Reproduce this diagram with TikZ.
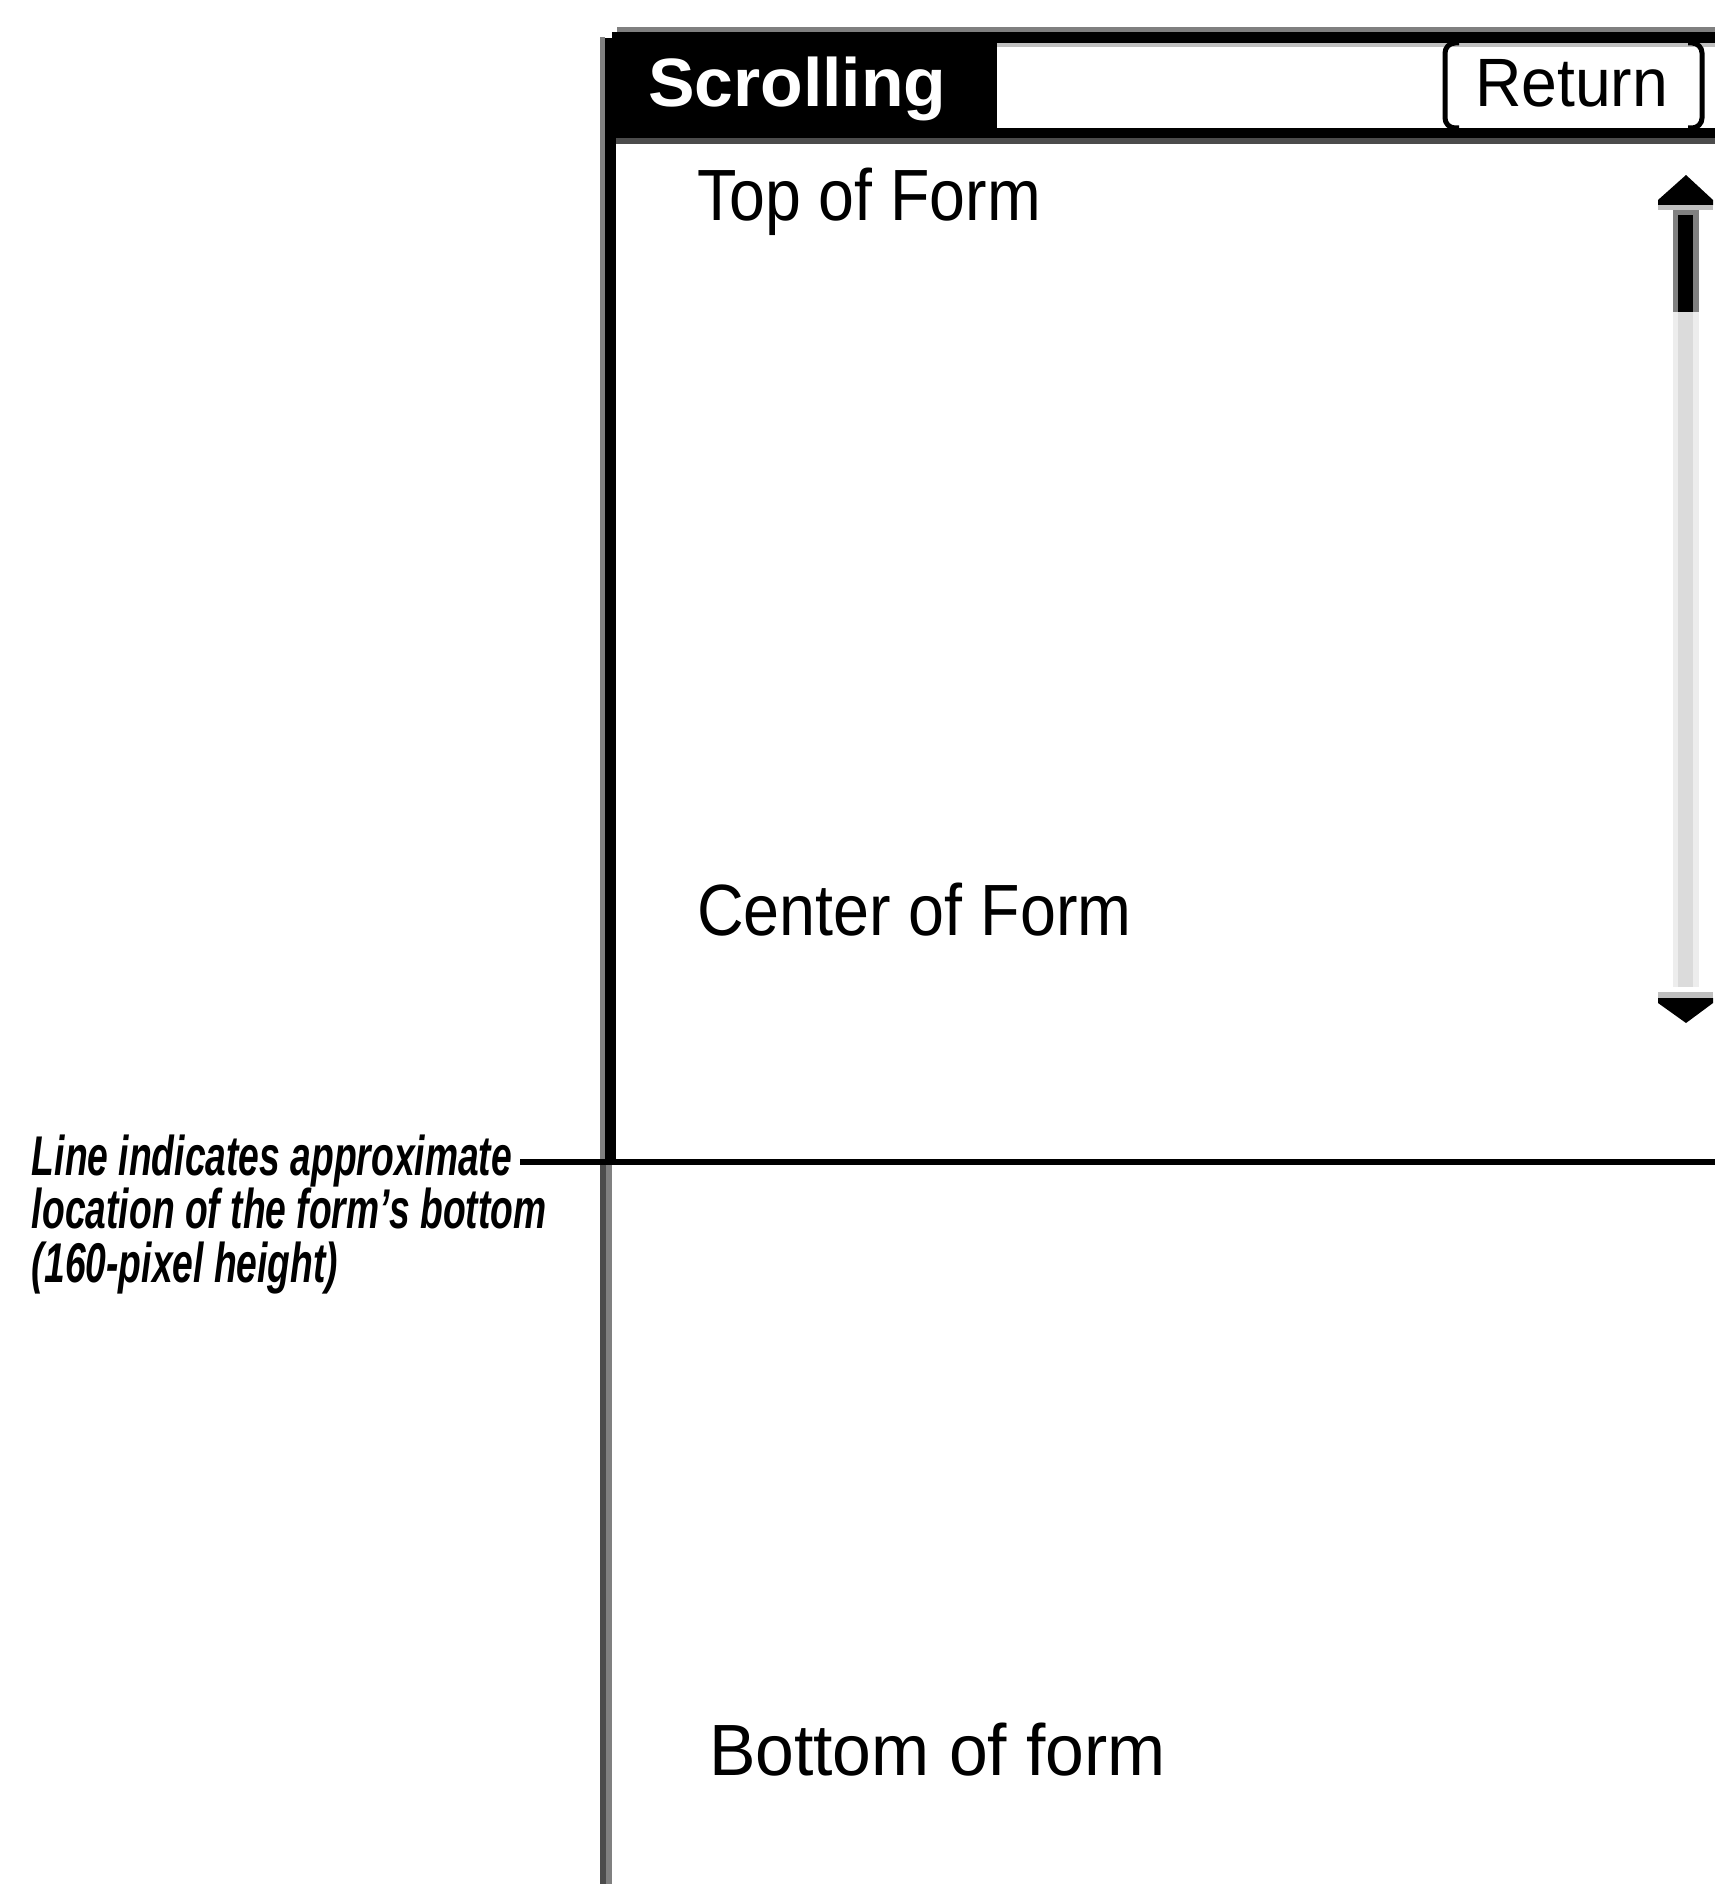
\documentclass[tikz,border=0pt]{standalone}
\usepackage{fontspec}
\setmainfont{Liberation Sans}
\definecolor{rimgray}{gray}{0.5}
\definecolor{darkrim}{gray}{0.3}
\definecolor{paleline}{gray}{0.75}
\definecolor{trackgray}{gray}{0.86}
\definecolor{trackedge}{gray}{0.93}
\newcommand{\hsq}[2]{\scalebox{#1}[1]{#2}}
\begin{document}
\begin{tikzpicture}[x=0.5pt,y=-0.5pt,
  uitext/.style={inner sep=0pt, outer sep=0pt, anchor=base west},
  formtext/.style={uitext, font=\fontsize{36.3}{40}\selectfont},
  notetext/.style={uitext, font=\fontsize{28}{26.5}\selectfont\bfseries\itshape},
  btnedge/.style={line width=2.5pt, rounded corners=5pt},
  formline/.style={line width=3pt}]
\useasboundingbox (0,0) rectangle (1715,1884);
\fill[white] (0,0) rectangle (1715,1884);

% window frame: top rim, title bar and left edge
\fill[rimgray] (617,27) rectangle (1715,32);
\fill[black] (605,32) rectangle (1715,138);
\fill[darkrim] (616,138) rectangle (1715,144);
\fill[rimgray] (600,37) rectangle (605,1160);
\fill[black] (605,37) rectangle (616,1160);
\fill[white] (605,32) rectangle (612,38);
% left edge below the form's visible area
\fill[darkrim] (600,1160) rectangle (606,1884);
\fill[rimgray] (606,1160) rectangle (612,1884);

% title field with the Return button
\fill[white] (997,43) rectangle (1715,128);
\fill[paleline] (997,43) rectangle (1715,47);
\coordinate (btnNW) at (1445,43);
\coordinate (btnSW) at (1445,128);
\coordinate (btnNE) at (1702,43);
\coordinate (btnSE) at (1702,128);
\draw[btnedge] ([xshift=7pt]btnNW) -- (btnNW) -- (btnSW) -- ([xshift=7pt]btnSW);
\draw[btnedge] ([xshift=-7pt]btnNE) -- (btnNE) -- (btnSE) -- ([xshift=-7pt]btnSE);

\node[uitext, text=white, font=\fontsize{34.2}{38}\selectfont\bfseries] (title) at (648,107) {\hsq{1.02}{Scrolling}};
\node[uitext, font=\fontsize{34.2}{38}\selectfont] (ret) at (1475,107) {\hsq{0.94}{Return}};

% form contents
\node[formtext] (top) at (697,220) {\hsq{0.888}{Top of Form}};
\node[formtext] (center) at (697,935) {\hsq{0.89}{Center of Form}};
\node[formtext] (bottom) at (709,1775) {\hsq{0.96}{Bottom of form}};

% scroll bar
\fill[black] (1686,175) -- (1713,200) -- (1713,205) -- (1658,205) -- (1658,200) -- cycle;
\fill[paleline] (1658,205) rectangle (1713,210);
\fill[rimgray] (1673,210) rectangle (1699,312);
\fill[black] (1678,215) rectangle (1693,312);
\fill[trackedge] (1673,312) rectangle (1699,987);
\fill[trackgray] (1678,312) rectangle (1693,987);
\fill[paleline] (1658,992) rectangle (1713,998);
\fill[black] (1658,998) -- (1713,998) -- (1713,1003) -- (1686,1023) -- (1658,1003) -- cycle;

% annotation and the line marking the 160-pixel bottom
\node[notetext] (ann1) at (32,1175) {\hsq{0.665}{Line indicates approximate}};
\node[notetext] (ann2) at (32,1228) {\hsq{0.665}{location of the form’s bottom}};
\node[notetext] (ann3) at (32,1282) {\hsq{0.665}{(160-pixel height)}};
\coordinate (lineR) at (1715,1162);
\draw[formline] ([xshift=4pt]ann1.east |- lineR) -- (lineR);
\end{tikzpicture}
\end{document}
